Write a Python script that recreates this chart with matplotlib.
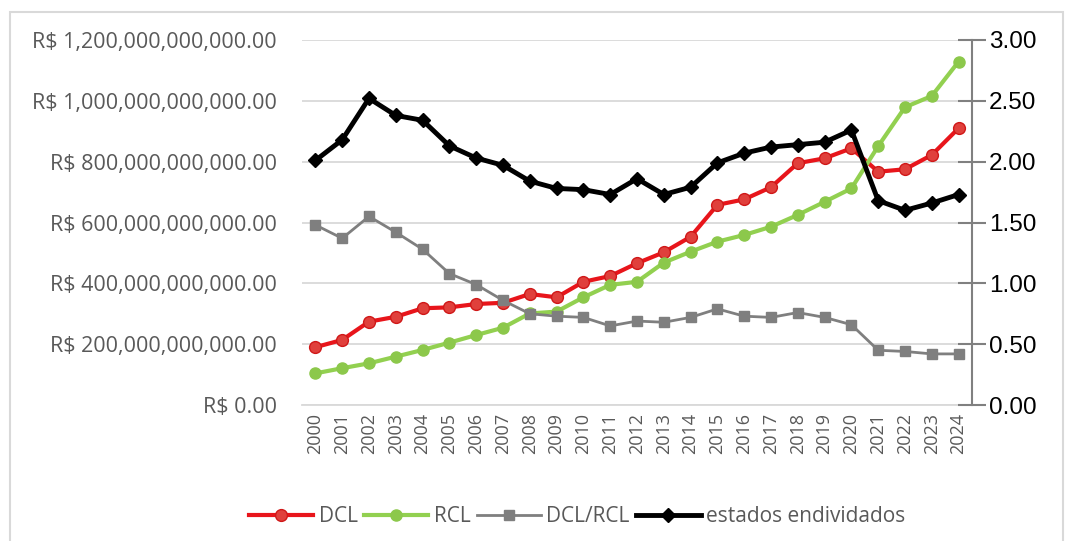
import numpy as np
import matplotlib
matplotlib.use("Agg")
import matplotlib.pyplot as plt
from matplotlib.ticker import FuncFormatter, MultipleLocator
from matplotlib.patches import Rectangle

# data
anos = [str(a) for a in range(2000, 2025)]

dcl = [190, 214, 274, 290, 318, 321, 332, 336, 365, 354, 405, 424, 466, 502,
       553, 658, 676, 716, 795, 811, 844, 767, 775, 822, 910]  # bilhoes R$
rcl = [104, 121, 137, 159, 181, 205, 230, 254, 301, 307, 354, 395, 405, 468,
       504, 537, 559, 586, 625, 668, 712, 851, 979, 1016, 1129]  # bilhoes R$
dcl_rcl = [1.48, 1.37, 1.55, 1.42, 1.28, 1.08, 0.99, 0.86, 0.75, 0.73, 0.72,
           0.65, 0.69, 0.68, 0.72, 0.79, 0.73, 0.72, 0.76, 0.72, 0.66, 0.45,
           0.44, 0.42, 0.42]
endividados = [2.01, 2.18, 2.52, 2.38, 2.34, 2.13, 2.03, 1.97, 1.84, 1.78,
               1.77, 1.73, 1.86, 1.73, 1.79, 1.99, 2.07, 2.12, 2.14, 2.16,
               2.26, 1.68, 1.60, 1.66, 1.73]

x = np.arange(len(anos))
dcl_v = np.array(dcl) * 1e9
rcl_v = np.array(rcl) * 1e9

fig = plt.figure(figsize=(10.66, 5.41), dpi=100)
ax = fig.add_axes([302/1066, 136/541, 670/1066, 365/541])
ax2 = ax.twinx()

# outer border like the excel chart area
fig.patches.append(Rectangle((10/1066, -0.05), 1053/1066, 1.05 - 12/541,
                             transform=fig.transFigure, fill=False,
                             edgecolor="#d9d9d9", lw=1.5))

l1, = ax.plot(x, dcl_v, color="#e8151b", lw=3, marker="o", ms=8.5,
              mfc="#e0403c", mec="#d01818", mew=1, label="DCL")
l2, = ax.plot(x, rcl_v, color="#92d050", lw=3, marker="o", ms=8,
              mfc="#8cc84b", mec="#8cc84b", label="RCL")
l3, = ax2.plot(x, dcl_rcl, color="#7f7f7f", lw=2, marker="s", ms=7,
               mfc="#7f7f7f", mec="#7f7f7f", label="DCL/RCL")
l4, = ax2.plot(x, endividados, color="black", lw=3.5, marker="D", ms=7.5,
               label="estados endividados")

ax.set_xlim(-0.5, len(anos) - 0.5)
ax.set_ylim(0, 1.2e12)
ax.yaxis.set_major_locator(MultipleLocator(2e11))
ax.yaxis.set_major_formatter(FuncFormatter(lambda v, p: "R$ {:,.2f}".format(v)))
ax2.set_ylim(0, 3)
ax2.yaxis.set_major_locator(MultipleLocator(0.5))
ax2.yaxis.set_major_formatter(FuncFormatter(lambda v, p: "{:.2f}".format(v)))

ax.grid(axis="y", color="#d9d9d9", lw=1.3)
ax.set_axisbelow(True)
for s in ["top", "left", "right"]:
    ax.spines[s].set_visible(False)
    ax2.spines[s].set_visible(s == "right")
ax.spines["bottom"].set_color("#d9d9d9")
ax.spines["bottom"].set_linewidth(1.3)
ax2.spines["bottom"].set_visible(False)
ax2.spines["right"].set_color("#808080")
ax2.spines["right"].set_linewidth(1.5)

ax.set_xticks(x)
ax.set_xticklabels(anos, rotation=90, fontsize=13, color="#595959",
                   family="Open Sans")
ax.tick_params(axis="x", length=0, pad=6)
ax.tick_params(axis="y", length=0, pad=18, labelsize=15.5, labelcolor="#595959")
for t in ax.get_yticklabels():
    t.set_family("Open Sans")
ax2.tick_params(axis="y", direction="inout", length=20, width=1.5,
                color="#808080", labelsize=17.5, labelcolor="black", pad=2)
for t in ax2.get_yticklabels():
    t.set_family("Liberation Sans")

leg = fig.legend(handles=[l1, l2, l3, l4], loc="center",
                 bbox_to_anchor=(577/1066, 1 - 517/541), ncol=4,
                 frameon=False, handlelength=3.1,
                 handletextpad=0.25, columnspacing=0.3,
                 prop={"family": "Open Sans", "size": 15})
for t in leg.get_texts():
    t.set_color("#595959")

fig.savefig("out.png", dpi=100)
